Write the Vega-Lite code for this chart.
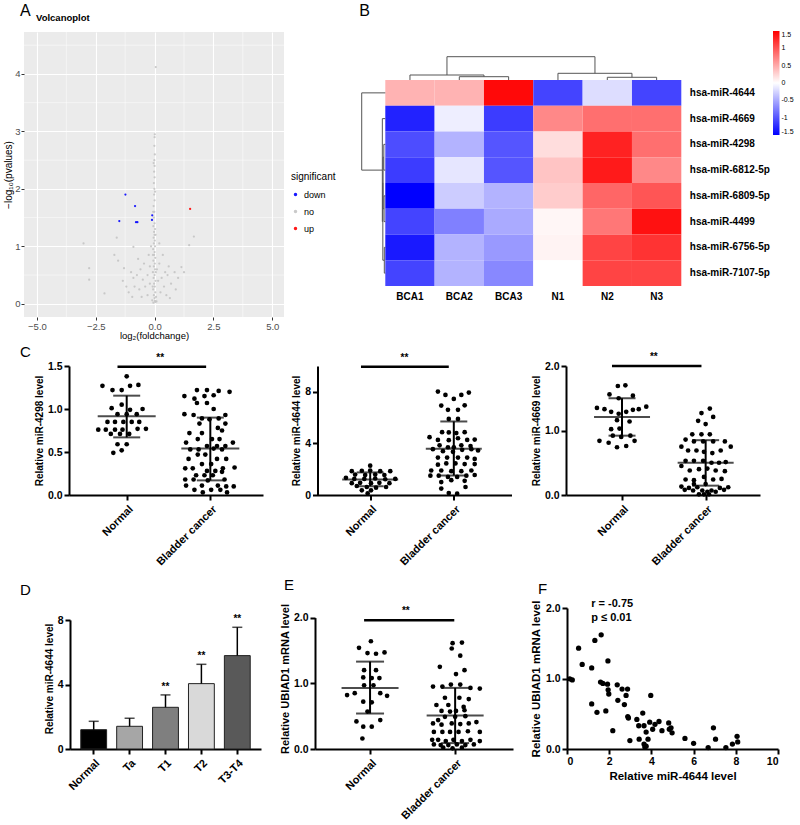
{
"$schema":"https://vega.github.io/schema/vega-lite/v6.json",
"padding":{"left":3,"top":3,"right":0,"bottom":0},
"config":{
 "font":"Liberation Sans",
 "view":{"stroke":null},
 "title":{"anchor":"start","frame":"group","fontSize":15,"fontWeight":"normal","color":"#000","font":"Liberation Sans"},
 "axis":{"grid":false,"domainColor":"#000","domainWidth":2,"tickColor":"#000","tickWidth":2,"tickSize":5,"labelColor":"#000","labelFontWeight":"bold","labelFontSize":10.5,"titleColor":"#000","titleFontWeight":"bold","titleFontSize":10,"labelPadding":2,"titlePadding":3,"labelFont":"Liberation Sans","titleFont":"Liberation Sans"},
 "legend":{"labelFont":"Liberation Sans","titleFont":"Liberation Sans"}
},
"datasets":{
 "volcano":[
  {"fc":-0.05,"nlp":0.02,"s":"no"},{"fc":0.02,"nlp":0.05,"s":"no"},{"fc":0.0,"nlp":0.1,"s":"no"},{"fc":-0.03,"nlp":0.15,"s":"no"},{"fc":0.03,"nlp":0.2,"s":"no"},{"fc":-0.06,"nlp":0.25,"s":"no"},{"fc":0.01,"nlp":0.3,"s":"no"},{"fc":-0.02,"nlp":0.35,"s":"no"},{"fc":0.04,"nlp":0.4,"s":"no"},{"fc":-0.04,"nlp":0.45,"s":"no"},{"fc":0.0,"nlp":0.5,"s":"no"},{"fc":-0.07,"nlp":0.55,"s":"no"},{"fc":0.02,"nlp":0.6,"s":"no"},{"fc":-0.03,"nlp":0.65,"s":"no"},{"fc":0.01,"nlp":0.7,"s":"no"},{"fc":-0.05,"nlp":0.75,"s":"no"},{"fc":0.03,"nlp":0.8,"s":"no"},{"fc":-0.02,"nlp":0.85,"s":"no"},{"fc":0.0,"nlp":0.9,"s":"no"},{"fc":-0.06,"nlp":0.95,"s":"no"},{"fc":0.02,"nlp":1.0,"s":"no"},{"fc":-0.03,"nlp":1.05,"s":"no"},{"fc":0.01,"nlp":1.1,"s":"no"},{"fc":-0.04,"nlp":1.15,"s":"no"},{"fc":0.0,"nlp":1.2,"s":"no"},{"fc":-0.02,"nlp":1.25,"s":"no"},{"fc":0.02,"nlp":1.3,"s":"no"},{"fc":-0.05,"nlp":1.35,"s":"no"},{"fc":0.0,"nlp":1.4,"s":"no"},{"fc":-0.03,"nlp":1.5,"s":"no"},{"fc":-0.01,"nlp":1.6,"s":"no"},{"fc":-0.04,"nlp":1.7,"s":"no"},{"fc":0.0,"nlp":1.8,"s":"no"},{"fc":-0.02,"nlp":1.9,"s":"no"},{"fc":-0.01,"nlp":2.0,"s":"no"},{"fc":-0.03,"nlp":2.1,"s":"no"},{"fc":0.0,"nlp":2.2,"s":"no"},{"fc":-0.02,"nlp":2.3,"s":"no"},{"fc":0.0,"nlp":2.4,"s":"no"},{"fc":-0.01,"nlp":2.5,"s":"no"},{"fc":0.01,"nlp":2.6,"s":"no"},{"fc":-0.01,"nlp":2.75,"s":"no"},{"fc":0.0,"nlp":2.9,"s":"no"},{"fc":0.01,"nlp":2.95,"s":"no"},{"fc":0.05,"nlp":4.12,"s":"no"},{"fc":0.03,"nlp":0.03,"s":"no"},{"fc":0.08,"nlp":0.04,"s":"no"},{"fc":-0.1,"nlp":0.06,"s":"no"},{"fc":0.06,"nlp":0.12,"s":"no"},{"fc":-0.08,"nlp":0.3,"s":"no"},{"fc":0.05,"nlp":0.55,"s":"no"},{"fc":-0.07,"nlp":0.85,"s":"no"},{"fc":0.04,"nlp":1.2,"s":"no"},{"fc":-0.06,"nlp":1.6,"s":"no"},{"fc":0.02,"nlp":1.95,"s":"no"},{"fc":-0.04,"nlp":2.45,"s":"no"},
  {"fc":-3.02,"nlp":1.05,"s":"no"},{"fc":-2.78,"nlp":0.62,"s":"no"},{"fc":-2.78,"nlp":0.42,"s":"no"},{"fc":-2.13,"nlp":0.18,"s":"no"},{"fc":-1.71,"nlp":0.85,"s":"no"},{"fc":-1.61,"nlp":1.15,"s":"no"},{"fc":-0.9,"nlp":0.99,"s":"no"},{"fc":-1.55,"nlp":0.75,"s":"no"},{"fc":-1.3,"nlp":0.62,"s":"no"},{"fc":-1.0,"nlp":0.55,"s":"no"},{"fc":-0.9,"nlp":0.45,"s":"no"},{"fc":-0.75,"nlp":0.5,"s":"no"},{"fc":-0.6,"nlp":0.6,"s":"no"},{"fc":-0.5,"nlp":0.42,"s":"no"},{"fc":-0.85,"nlp":0.3,"s":"no"},{"fc":-0.65,"nlp":0.25,"s":"no"},{"fc":-0.4,"nlp":0.3,"s":"no"},{"fc":-0.3,"nlp":0.5,"s":"no"},{"fc":-0.2,"nlp":0.65,"s":"no"},{"fc":-1.1,"nlp":0.2,"s":"no"},{"fc":-0.55,"nlp":0.12,"s":"no"},{"fc":-0.3,"nlp":0.15,"s":"no"},{"fc":-0.2,"nlp":0.35,"s":"no"},{"fc":-0.45,"nlp":0.7,"s":"no"},{"fc":-0.7,"nlp":0.78,"s":"no"},{"fc":-0.25,"nlp":0.85,"s":"no"},{"fc":-1.35,"nlp":0.4,"s":"no"},{"fc":-1.2,"nlp":0.3,"s":"no"},{"fc":-0.95,"nlp":0.12,"s":"no"},{"fc":0.2,"nlp":0.7,"s":"no"},{"fc":0.3,"nlp":0.45,"s":"no"},{"fc":0.4,"nlp":0.3,"s":"no"},{"fc":0.55,"nlp":0.5,"s":"no"},{"fc":0.7,"nlp":0.35,"s":"no"},{"fc":0.85,"nlp":0.55,"s":"no"},{"fc":1.0,"nlp":0.45,"s":"no"},{"fc":1.14,"nlp":0.64,"s":"no"},{"fc":1.25,"nlp":0.55,"s":"no"},{"fc":0.5,"nlp":0.15,"s":"no"},{"fc":0.25,"nlp":0.2,"s":"no"},{"fc":0.65,"nlp":0.1,"s":"no"},{"fc":0.15,"nlp":0.4,"s":"no"},{"fc":1.47,"nlp":1.02,"s":"no"},{"fc":1.67,"nlp":1.17,"s":"no"},{"fc":0.35,"nlp":0.85,"s":"no"},{"fc":0.2,"nlp":1.05,"s":"no"},{"fc":-0.15,"nlp":1.0,"s":"no"},{"fc":0.6,"nlp":0.65,"s":"no"},{"fc":0.9,"nlp":0.25,"s":"no"},{"fc":0.1,"nlp":0.6,"s":"no"},{"fc":0.45,"nlp":0.55,"s":"no"},
  {"fc":-1.24,"nlp":1.9,"s":"down"},{"fc":-0.83,"nlp":1.7,"s":"down"},{"fc":-1.5,"nlp":1.44,"s":"down"},{"fc":-0.79,"nlp":1.42,"s":"down"},{"fc":-0.73,"nlp":1.42,"s":"down"},{"fc":-0.1,"nlp":1.54,"s":"down"},{"fc":-0.11,"nlp":1.46,"s":"down"},
  {"fc":1.51,"nlp":1.65,"s":"up"}
 ],
 "heat":[
  {"m":"hsa-miR-4644","s":"BCA1","v":0.45},{"m":"hsa-miR-4644","s":"BCA2","v":0.45},{"m":"hsa-miR-4644","s":"BCA3","v":1.45},{"m":"hsa-miR-4644","s":"N1","v":-1.1},{"m":"hsa-miR-4644","s":"N2","v":-0.2},{"m":"hsa-miR-4644","s":"N3","v":-1.1},
  {"m":"hsa-miR-4669","s":"BCA1","v":-1.3},{"m":"hsa-miR-4669","s":"BCA2","v":-0.1},{"m":"hsa-miR-4669","s":"BCA3","v":-1.15},{"m":"hsa-miR-4669","s":"N1","v":0.7},{"m":"hsa-miR-4669","s":"N2","v":0.85},{"m":"hsa-miR-4669","s":"N3","v":0.85},
  {"m":"hsa-miR-4298","s":"BCA1","v":-1.05},{"m":"hsa-miR-4298","s":"BCA2","v":-0.45},{"m":"hsa-miR-4298","s":"BCA3","v":-1.0},{"m":"hsa-miR-4298","s":"N1","v":0.2},{"m":"hsa-miR-4298","s":"N2","v":1.3},{"m":"hsa-miR-4298","s":"N3","v":0.85},
  {"m":"hsa-miR-6812-5p","s":"BCA1","v":-1.15},{"m":"hsa-miR-6812-5p","s":"BCA2","v":-0.15},{"m":"hsa-miR-6812-5p","s":"BCA3","v":-1.0},{"m":"hsa-miR-6812-5p","s":"N1","v":0.35},{"m":"hsa-miR-6812-5p","s":"N2","v":1.35},{"m":"hsa-miR-6812-5p","s":"N3","v":0.7},
  {"m":"hsa-miR-6809-5p","s":"BCA1","v":-1.5},{"m":"hsa-miR-6809-5p","s":"BCA2","v":-0.3},{"m":"hsa-miR-6809-5p","s":"BCA3","v":-0.45},{"m":"hsa-miR-6809-5p","s":"N1","v":0.3},{"m":"hsa-miR-6809-5p","s":"N2","v":0.9},{"m":"hsa-miR-6809-5p","s":"N3","v":1.0},
  {"m":"hsa-miR-4499","s":"BCA1","v":-1.1},{"m":"hsa-miR-4499","s":"BCA2","v":-0.75},{"m":"hsa-miR-4499","s":"BCA3","v":-0.5},{"m":"hsa-miR-4499","s":"N1","v":0.05},{"m":"hsa-miR-4499","s":"N2","v":0.8},{"m":"hsa-miR-4499","s":"N3","v":1.4},
  {"m":"hsa-miR-6756-5p","s":"BCA1","v":-1.35},{"m":"hsa-miR-6756-5p","s":"BCA2","v":-0.45},{"m":"hsa-miR-6756-5p","s":"BCA3","v":-0.6},{"m":"hsa-miR-6756-5p","s":"N1","v":0.07},{"m":"hsa-miR-6756-5p","s":"N2","v":1.1},{"m":"hsa-miR-6756-5p","s":"N3","v":1.2},
  {"m":"hsa-miR-7107-5p","s":"BCA1","v":-1.1},{"m":"hsa-miR-7107-5p","s":"BCA2","v":-0.45},{"m":"hsa-miR-7107-5p","s":"BCA3","v":-0.7},{"m":"hsa-miR-7107-5p","s":"N1","v":0.0},{"m":"hsa-miR-7107-5p","s":"N2","v":1.1},{"m":"hsa-miR-7107-5p","s":"N3","v":1.1}
 ],
 "dendro":[
  {"x1":0.5,"y1":0,"x2":0.5,"y2":-0.194},{"x1":1.5,"y1":0,"x2":1.5,"y2":-0.128},{"x1":2.5,"y1":0,"x2":2.5,"y2":-0.128},{"x1":1.5,"y1":-0.128,"x2":2.5,"y2":-0.128},{"x1":2.0,"y1":-0.128,"x2":2.0,"y2":-0.194},{"x1":0.5,"y1":-0.194,"x2":2.0,"y2":-0.194},{"x1":1.25,"y1":-0.194,"x2":1.25,"y2":-0.905},
  {"x1":3.5,"y1":0,"x2":3.5,"y2":-0.26},{"x1":4.5,"y1":0,"x2":4.5,"y2":-0.105},{"x1":5.5,"y1":0,"x2":5.5,"y2":-0.105},{"x1":4.5,"y1":-0.105,"x2":5.5,"y2":-0.105},{"x1":5.0,"y1":-0.105,"x2":5.0,"y2":-0.26},{"x1":3.5,"y1":-0.26,"x2":5.0,"y2":-0.26},{"x1":4.25,"y1":-0.26,"x2":4.25,"y2":-0.905},{"x1":1.25,"y1":-0.905,"x2":4.25,"y2":-0.905},
  {"x1":-0.478,"y1":0.5,"x2":0,"y2":0.5},{"x1":-0.478,"y1":0.5,"x2":-0.478,"y2":3.5},{"x1":-0.478,"y1":3.5,"x2":-0.06,"y2":3.5},
  {"x1":-0.06,"y1":1.5,"x2":-0.06,"y2":5.5},{"x1":-0.06,"y1":1.5,"x2":0,"y2":1.5},{"x1":-0.06,"y1":5.5,"x2":-0.05,"y2":5.5},
  {"x1":-0.05,"y1":4.0,"x2":-0.05,"y2":7.0},{"x1":-0.05,"y1":4.0,"x2":-0.045,"y2":4.0},{"x1":-0.05,"y1":7.0,"x2":-0.02,"y2":7.0},
  {"x1":-0.045,"y1":3.0,"x2":-0.045,"y2":5.0},{"x1":-0.045,"y1":3.0,"x2":-0.03,"y2":3.0},{"x1":-0.045,"y1":5.0,"x2":-0.025,"y2":5.0},
  {"x1":-0.03,"y1":2.5,"x2":-0.03,"y2":3.5},{"x1":-0.03,"y1":2.5,"x2":0,"y2":2.5},{"x1":-0.03,"y1":3.5,"x2":0,"y2":3.5},
  {"x1":-0.025,"y1":4.5,"x2":-0.025,"y2":5.5},{"x1":-0.025,"y1":4.5,"x2":0,"y2":4.5},{"x1":-0.025,"y1":5.5,"x2":0,"y2":5.5},
  {"x1":-0.02,"y1":6.5,"x2":-0.02,"y2":7.5},{"x1":-0.02,"y1":6.5,"x2":0,"y2":6.5},{"x1":-0.02,"y1":7.5,"x2":0,"y2":7.5}
 ],
 "dots":[
  {"p":"C1","x":1.0,"v":1.38},{"p":"C1","x":0.71,"v":1.27},{"p":"C1","x":0.83,"v":1.22},{"p":"C1","x":0.94,"v":1.22},{"p":"C1","x":1.04,"v":1.27},{"p":"C1","x":1.14,"v":1.28},{"p":"C1","x":0.94,"v":1.05},{"p":"C1","x":0.82,"v":1.01},{"p":"C1","x":1.04,"v":0.99},{"p":"C1","x":1.19,"v":1.0},{"p":"C1","x":0.89,"v":0.94},{"p":"C1","x":1.0,"v":0.94},{"p":"C1","x":1.12,"v":0.94},{"p":"C1","x":0.77,"v":0.85},{"p":"C1","x":0.86,"v":0.85},{"p":"C1","x":0.96,"v":0.85},{"p":"C1","x":1.06,"v":0.85},{"p":"C1","x":1.15,"v":0.85},{"p":"C1","x":0.66,"v":0.76},{"p":"C1","x":0.75,"v":0.76},{"p":"C1","x":0.86,"v":0.76},{"p":"C1","x":0.95,"v":0.76},{"p":"C1","x":1.13,"v":0.77},{"p":"C1","x":1.23,"v":0.77},{"p":"C1","x":0.81,"v":0.71},{"p":"C1","x":0.92,"v":0.71},{"p":"C1","x":1.03,"v":0.71},{"p":"C1","x":0.89,"v":0.59},{"p":"C1","x":1.0,"v":0.59},{"p":"C1","x":0.84,"v":0.49},{"p":"C1","x":0.94,"v":0.52},
  {"p":"C1","x":1.84,"v":1.22},{"p":"C1","x":1.96,"v":1.22},{"p":"C1","x":2.10,"v":1.21},{"p":"C1","x":2.23,"v":1.2},{"p":"C1","x":1.69,"v":1.15},{"p":"C1","x":1.81,"v":1.12},{"p":"C1","x":1.93,"v":1.15},{"p":"C1","x":2.04,"v":1.16},{"p":"C1","x":1.84,"v":1.07},{"p":"C1","x":1.96,"v":1.07},{"p":"C1","x":2.04,"v":1.0},{"p":"C1","x":1.69,"v":0.94},{"p":"C1","x":1.80,"v":0.93},{"p":"C1","x":2.18,"v":0.93},{"p":"C1","x":1.90,"v":0.89},{"p":"C1","x":1.99,"v":0.88},{"p":"C1","x":2.10,"v":0.89},{"p":"C1","x":1.87,"v":0.83},{"p":"C1","x":2.18,"v":0.83},{"p":"C1","x":2.09,"v":0.78},{"p":"C1","x":2.14,"v":0.75},{"p":"C1","x":1.75,"v":0.72},{"p":"C1","x":1.90,"v":0.72},{"p":"C1","x":1.85,"v":0.65},{"p":"C1","x":2.02,"v":0.65},{"p":"C1","x":2.11,"v":0.65},{"p":"C1","x":1.71,"v":0.61},{"p":"C1","x":2.27,"v":0.61},{"p":"C1","x":1.96,"v":0.57},{"p":"C1","x":2.08,"v":0.57},{"p":"C1","x":2.18,"v":0.57},{"p":"C1","x":1.76,"v":0.53},{"p":"C1","x":1.86,"v":0.53},{"p":"C1","x":2.04,"v":0.54},{"p":"C1","x":2.14,"v":0.53},{"p":"C1","x":1.85,"v":0.47},{"p":"C1","x":1.94,"v":0.47},{"p":"C1","x":1.74,"v":0.42},{"p":"C1","x":2.08,"v":0.42},{"p":"C1","x":2.19,"v":0.42},{"p":"C1","x":1.90,"v":0.36},{"p":"C1","x":2.01,"v":0.36},{"p":"C1","x":1.70,"v":0.31},{"p":"C1","x":1.79,"v":0.31},{"p":"C1","x":2.15,"v":0.31},{"p":"C1","x":2.29,"v":0.32},{"p":"C1","x":1.96,"v":0.28},{"p":"C1","x":2.06,"v":0.28},{"p":"C1","x":2.14,"v":0.27},{"p":"C1","x":1.83,"v":0.23},{"p":"C1","x":1.93,"v":0.23},{"p":"C1","x":2.03,"v":0.23},{"p":"C1","x":1.70,"v":0.18},{"p":"C1","x":1.80,"v":0.18},{"p":"C1","x":1.97,"v":0.17},{"p":"C1","x":2.17,"v":0.18},{"p":"C1","x":1.71,"v":0.11},{"p":"C1","x":1.90,"v":0.11},{"p":"C1","x":2.09,"v":0.11},{"p":"C1","x":2.19,"v":0.1},{"p":"C1","x":2.28,"v":0.1},{"p":"C1","x":1.81,"v":0.06},{"p":"C1","x":2.01,"v":0.06},{"p":"C1","x":2.12,"v":0.06},{"p":"C1","x":1.91,"v":0.03},{"p":"C1","x":2.20,"v":0.03},
  {"p":"C2","x":1.0,"v":2.27},{"p":"C2","x":0.78,"v":1.85},{"p":"C2","x":0.90,"v":1.88},{"p":"C2","x":1.0,"v":1.9},{"p":"C2","x":1.12,"v":1.85},{"p":"C2","x":1.24,"v":1.85},{"p":"C2","x":0.82,"v":1.58},{"p":"C2","x":0.94,"v":1.55},{"p":"C2","x":1.06,"v":1.58},{"p":"C2","x":1.17,"v":1.55},{"p":"C2","x":0.71,"v":1.33},{"p":"C2","x":0.81,"v":1.25},{"p":"C2","x":0.93,"v":1.25},{"p":"C2","x":1.06,"v":1.28},{"p":"C2","x":1.18,"v":1.22},{"p":"C2","x":1.30,"v":1.25},{"p":"C2","x":0.78,"v":0.92},{"p":"C2","x":0.88,"v":0.94},{"p":"C2","x":1.01,"v":0.92},{"p":"C2","x":1.11,"v":0.94},{"p":"C2","x":1.23,"v":0.92},{"p":"C2","x":0.84,"v":0.7},{"p":"C2","x":0.96,"v":0.62},{"p":"C2","x":1.07,"v":0.57},{"p":"C2","x":1.19,"v":0.62},{"p":"C2","x":0.90,"v":0.36},{"p":"C2","x":1.01,"v":0.36},{"p":"C2","x":0.97,"v":0.12},
  {"p":"C2","x":1.81,"v":8.02},{"p":"C2","x":1.90,"v":7.76},{"p":"C2","x":2.0,"v":7.45},{"p":"C2","x":2.09,"v":7.76},{"p":"C2","x":2.18,"v":7.94},{"p":"C2","x":1.85,"v":6.93},{"p":"C2","x":1.93,"v":6.6},{"p":"C2","x":2.05,"v":6.6},{"p":"C2","x":2.13,"v":6.95},{"p":"C2","x":1.94,"v":5.9},{"p":"C2","x":2.05,"v":5.9},{"p":"C2","x":1.86,"v":4.87},{"p":"C2","x":1.94,"v":4.85},{"p":"C2","x":2.03,"v":4.8},{"p":"C2","x":2.13,"v":4.87},{"p":"C2","x":1.71,"v":4.48},{"p":"C2","x":2.25,"v":4.3},{"p":"C2","x":1.81,"v":4.27},{"p":"C2","x":1.94,"v":4.25},{"p":"C2","x":2.05,"v":4.4},{"p":"C2","x":2.16,"v":4.27},{"p":"C2","x":1.83,"v":3.85},{"p":"C2","x":1.93,"v":3.7},{"p":"C2","x":2.0,"v":3.7},{"p":"C2","x":2.09,"v":3.85},{"p":"C2","x":2.20,"v":3.8},{"p":"C2","x":1.75,"v":3.55},{"p":"C2","x":1.87,"v":3.4},{"p":"C2","x":1.99,"v":3.35},{"p":"C2","x":2.10,"v":3.5},{"p":"C2","x":2.21,"v":3.55},{"p":"C2","x":2.29,"v":3.45},{"p":"C2","x":1.81,"v":2.9},{"p":"C2","x":1.92,"v":2.9},{"p":"C2","x":2.05,"v":2.9},{"p":"C2","x":2.16,"v":2.9},{"p":"C2","x":2.25,"v":2.8},{"p":"C2","x":1.81,"v":2.35},{"p":"C2","x":1.91,"v":2.45},{"p":"C2","x":2.02,"v":2.45},{"p":"C2","x":2.13,"v":2.4},{"p":"C2","x":2.25,"v":2.4},{"p":"C2","x":1.73,"v":1.9},{"p":"C2","x":1.85,"v":1.9},{"p":"C2","x":1.97,"v":1.85},{"p":"C2","x":2.09,"v":1.85},{"p":"C2","x":2.21,"v":1.9},{"p":"C2","x":1.72,"v":1.5},{"p":"C2","x":1.82,"v":1.5},{"p":"C2","x":1.93,"v":1.4},{"p":"C2","x":2.04,"v":1.4},{"p":"C2","x":2.15,"v":1.5},{"p":"C2","x":2.25,"v":1.55},{"p":"C2","x":1.85,"v":1.0},{"p":"C2","x":1.97,"v":1.15},{"p":"C2","x":2.13,"v":1.1},{"p":"C2","x":1.85,"v":0.5},{"p":"C2","x":2.14,"v":0.62},{"p":"C2","x":1.94,"v":0.15},{"p":"C2","x":2.04,"v":0.1},
  {"p":"C3","x":0.95,"v":1.69},{"p":"C3","x":1.04,"v":1.70},{"p":"C3","x":0.85,"v":1.56},{"p":"C3","x":1.13,"v":1.54},{"p":"C3","x":0.96,"v":1.5},{"p":"C3","x":0.70,"v":1.35},{"p":"C3","x":1.29,"v":1.37},{"p":"C3","x":0.79,"v":1.33},{"p":"C3","x":1.20,"v":1.33},{"p":"C3","x":0.87,"v":1.29},{"p":"C3","x":1.05,"v":1.29},{"p":"C3","x":0.96,"v":1.26},{"p":"C3","x":1.13,"v":1.32},{"p":"C3","x":1.09,"v":1.14},{"p":"C3","x":0.94,"v":1.16},{"p":"C3","x":0.87,"v":1.02},{"p":"C3","x":0.97,"v":1.03},{"p":"C3","x":0.89,"v":0.92},{"p":"C3","x":1.10,"v":0.92},{"p":"C3","x":0.99,"v":0.9},{"p":"C3","x":0.73,"v":0.84},{"p":"C3","x":1.15,"v":0.84},{"p":"C3","x":0.84,"v":0.81},{"p":"C3","x":0.94,"v":0.74},{"p":"C3","x":1.05,"v":0.76},
  {"p":"C3","x":2.05,"v":1.34},{"p":"C3","x":1.95,"v":1.27},{"p":"C3","x":2.09,"v":1.21},{"p":"C3","x":1.91,"v":1.15},{"p":"C3","x":2.0,"v":1.10},{"p":"C3","x":1.84,"v":0.94},{"p":"C3","x":1.95,"v":0.94},{"p":"C3","x":2.05,"v":0.94},{"p":"C3","x":1.76,"v":0.86},{"p":"C3","x":1.86,"v":0.83},{"p":"C3","x":1.97,"v":0.83},{"p":"C3","x":2.09,"v":0.83},{"p":"C3","x":2.23,"v":0.83},{"p":"C3","x":1.71,"v":0.75},{"p":"C3","x":2.30,"v":0.75},{"p":"C3","x":1.79,"v":0.69},{"p":"C3","x":1.89,"v":0.69},{"p":"C3","x":1.98,"v":0.67},{"p":"C3","x":2.18,"v":0.69},{"p":"C3","x":2.08,"v":0.65},{"p":"C3","x":1.76,"v":0.53},{"p":"C3","x":1.86,"v":0.53},{"p":"C3","x":1.97,"v":0.53},{"p":"C3","x":2.07,"v":0.5},{"p":"C3","x":2.16,"v":0.5},{"p":"C3","x":2.24,"v":0.51},{"p":"C3","x":1.71,"v":0.45},{"p":"C3","x":1.81,"v":0.38},{"p":"C3","x":1.92,"v":0.4},{"p":"C3","x":2.02,"v":0.41},{"p":"C3","x":2.12,"v":0.38},{"p":"C3","x":2.23,"v":0.37},{"p":"C3","x":1.76,"v":0.24},{"p":"C3","x":1.86,"v":0.23},{"p":"C3","x":1.98,"v":0.28},{"p":"C3","x":2.09,"v":0.24},{"p":"C3","x":2.19,"v":0.25},{"p":"C3","x":1.86,"v":0.17},{"p":"C3","x":2.0,"v":0.17},{"p":"C3","x":1.71,"v":0.13},{"p":"C3","x":1.80,"v":0.11},{"p":"C3","x":1.90,"v":0.12},{"p":"C3","x":2.17,"v":0.11},{"p":"C3","x":2.27,"v":0.12},{"p":"C3","x":1.75,"v":0.08},{"p":"C3","x":1.85,"v":0.07},{"p":"C3","x":1.96,"v":0.07},{"p":"C3","x":2.07,"v":0.07},{"p":"C3","x":2.22,"v":0.08},{"p":"C3","x":2.02,"v":0.05},{"p":"C3","x":2.12,"v":0.05},{"p":"C3","x":1.92,"v":0.01},{"p":"C3","x":1.98,"v":0.01},{"p":"C3","x":2.04,"v":0.01},
  {"p":"E","x":1.01,"v":1.64},{"p":"E","x":0.87,"v":1.54},{"p":"E","x":0.97,"v":1.46},{"p":"E","x":1.07,"v":1.45},{"p":"E","x":1.17,"v":1.47},{"p":"E","x":0.93,"v":1.20},{"p":"E","x":1.07,"v":1.20},{"p":"E","x":0.92,"v":1.09},{"p":"E","x":1.02,"v":1.08},{"p":"E","x":1.11,"v":1.08},{"p":"E","x":0.93,"v":0.97},{"p":"E","x":1.04,"v":0.97},{"p":"E","x":0.73,"v":0.82},{"p":"E","x":0.82,"v":0.85},{"p":"E","x":1.12,"v":0.85},{"p":"E","x":1.20,"v":0.81},{"p":"E","x":0.92,"v":0.72},{"p":"E","x":1.02,"v":0.71},{"p":"E","x":0.97,"v":0.57},{"p":"E","x":0.84,"v":0.42},{"p":"E","x":1.12,"v":0.44},{"p":"E","x":0.92,"v":0.34},{"p":"E","x":1.02,"v":0.34},{"p":"E","x":0.91,"v":0.16},
  {"p":"E","x":1.97,"v":1.61},{"p":"E","x":2.08,"v":1.62},{"p":"E","x":1.96,"v":1.53},{"p":"E","x":2.06,"v":1.42},{"p":"E","x":1.82,"v":1.25},{"p":"E","x":2.01,"v":1.14},{"p":"E","x":2.11,"v":1.20},{"p":"E","x":1.74,"v":0.95},{"p":"E","x":1.85,"v":0.95},{"p":"E","x":2.18,"v":0.93},{"p":"E","x":2.29,"v":0.92},{"p":"E","x":1.95,"v":0.98},{"p":"E","x":2.06,"v":0.98},{"p":"E","x":1.88,"v":0.78},{"p":"E","x":2.05,"v":0.78},{"p":"E","x":2.16,"v":0.76},{"p":"E","x":1.78,"v":0.67},{"p":"E","x":1.92,"v":0.67},{"p":"E","x":2.10,"v":0.64},{"p":"E","x":1.84,"v":0.58},{"p":"E","x":1.94,"v":0.57},{"p":"E","x":2.01,"v":0.58},{"p":"E","x":2.11,"v":0.59},{"p":"E","x":1.88,"v":0.49},{"p":"E","x":2.0,"v":0.49},{"p":"E","x":2.12,"v":0.5},{"p":"E","x":1.80,"v":0.44},{"p":"E","x":1.74,"v":0.39},{"p":"E","x":1.84,"v":0.37},{"p":"E","x":1.96,"v":0.39},{"p":"E","x":2.06,"v":0.38},{"p":"E","x":2.16,"v":0.39},{"p":"E","x":2.25,"v":0.41},{"p":"E","x":1.75,"v":0.26},{"p":"E","x":1.85,"v":0.26},{"p":"E","x":1.94,"v":0.26},{"p":"E","x":2.04,"v":0.26},{"p":"E","x":2.15,"v":0.27},{"p":"E","x":2.29,"v":0.26},{"p":"E","x":1.73,"v":0.14},{"p":"E","x":1.80,"v":0.14},{"p":"E","x":1.89,"v":0.12},{"p":"E","x":1.98,"v":0.14},{"p":"E","x":2.08,"v":0.12},{"p":"E","x":2.18,"v":0.14},{"p":"E","x":2.29,"v":0.12},{"p":"E","x":1.75,"v":0.07},{"p":"E","x":1.83,"v":0.06},{"p":"E","x":1.92,"v":0.06},{"p":"E","x":2.02,"v":0.07},{"p":"E","x":2.12,"v":0.06},{"p":"E","x":2.22,"v":0.07},{"p":"E","x":1.86,"v":0.02},{"p":"E","x":1.97,"v":0.01},{"p":"E","x":2.08,"v":0.02}
 ],
 "stats":[
  {"p":"C1","g":1,"mean":0.917,"lo":0.67,"hi":1.155},{"p":"C1","g":2,"mean":0.54,"lo":0.17,"hi":0.9},
  {"p":"C2","g":1,"mean":1.2,"lo":0.68,"hi":1.75},{"p":"C2","g":2,"mean":3.59,"lo":1.51,"hi":5.7},
  {"p":"C3","g":1,"mean":1.21,"lo":0.92,"hi":1.5},{"p":"C3","g":2,"mean":0.5,"lo":0.145,"hi":0.85},
  {"p":"E","g":1,"mean":0.93,"lo":0.54,"hi":1.33},{"p":"E","g":2,"mean":0.51,"lo":0.09,"hi":0.93}
 ],
 "stage":[
  {"st":"Normal","mean":1.2,"up":1.72,"sig":""},{"st":"Ta","mean":1.41,"up":1.91,"sig":""},{"st":"T1","mean":2.59,"up":3.36,"sig":"**"},{"st":"T2","mean":4.06,"up":5.26,"sig":"**"},{"st":"T3-T4","mean":5.8,"up":7.56,"sig":"**"}
 ],
 "corr":[
  {"m":0.13,"u":0.995},{"m":0.25,"u":0.98},{"m":0.55,"u":1.43},{"m":0.72,"u":1.2},{"m":1.17,"u":1.15},{"m":1.17,"u":0.64},{"m":1.32,"u":1.54},{"m":1.42,"u":0.52},{"m":1.62,"u":1.62},{"m":1.59,"u":0.95},{"m":1.7,"u":0.93},{"m":1.84,"u":0.54},{"m":1.92,"u":0.92},{"m":1.94,"u":1.25},{"m":1.95,"u":0.84},{"m":1.98,"u":0.78},{"m":2.17,"u":0.26},{"m":2.38,"u":0.91},{"m":2.41,"u":0.69},{"m":2.61,"u":0.85},{"m":2.72,"u":0.63},{"m":2.8,"u":0.76},{"m":2.87,"u":0.85},{"m":2.88,"u":0.46},{"m":2.91,"u":0.44},{"m":2.98,"u":0.12},{"m":3.31,"u":0.42},{"m":3.4,"u":0.33},{"m":3.42,"u":0.14},{"m":3.59,"u":0.51},{"m":3.65,"u":0.33},{"m":3.65,"u":0.07},{"m":3.69,"u":0.03},{"m":3.75,"u":0.24},{"m":3.75,"u":0.04},{"m":3.84,"u":0.14},{"m":3.92,"u":0.38},{"m":3.97,"u":0.76},{"m":4.06,"u":0.28},{"m":4.17,"u":0.35},{"m":4.36,"u":0.39},{"m":4.5,"u":0.26},{"m":4.82,"u":0.37},{"m":4.85,"u":0.28},{"m":4.93,"u":0.3},{"m":4.98,"u":0.23},{"m":5.59,"u":0.15},{"m":6.0,"u":0.08},{"m":6.69,"u":0.02},{"m":6.94,"u":0.3},{"m":7.04,"u":0.14},{"m":7.53,"u":0.02},{"m":7.84,"u":0.07},{"m":8.06,"u":0.18},{"m":8.09,"u":0.1}
 ]
},
"spacing":10,
"vconcat":[
 {"spacing":5,"vconcat":[
  {"bounds":"flush","spacing":101.3,
   "title":{"text":"A","fontSize":16,"dx":-4,"offset":-16},
   "hconcat":[
   {"width":260,"height":285,
    "view":{"fill":"#ebebeb","stroke":null},
    "title":{"text":"Volcanoplot","fontSize":9.5,"fontWeight":"bold","dx":12,"offset":9},
    "layer":[
     {"data":{"values":[{"fc":-3.75},{"fc":-1.25},{"fc":1.25},{"fc":3.75}]},"mark":{"type":"rule","color":"#ffffff","strokeWidth":0.5},
      "encoding":{"x":{"field":"fc","type":"quantitative","scale":{"domain":[-5.55,5.5],"nice":false,"zero":false},"axis":{"title":"log₂(foldchange)","values":[-5,-2.5,0,2.5,5],"format":".1f","grid":true,"gridColor":"#ffffff","gridWidth":1.1,"domain":false,"tickColor":"#333333","tickWidth":1,"tickSize":3,"labelColor":"#4d4d4d","labelFontSize":9.5,"labelFontWeight":"normal","labelPadding":1,"titleFontSize":9.5,"titleFontWeight":"normal","titlePadding":0}}}},
     {"data":{"values":[{"nlp":0.5},{"nlp":1.5},{"nlp":2.5},{"nlp":3.5},{"nlp":4.5}]},"mark":{"type":"rule","color":"#ffffff","strokeWidth":0.5},
      "encoding":{"y":{"field":"nlp","type":"quantitative","scale":{"domain":[-0.23,4.73],"nice":false,"zero":false},"axis":{"title":"−log₁₀(pvalues)","values":[0,1,2,3,4],"format":"d","grid":true,"gridColor":"#ffffff","gridWidth":1.1,"domain":false,"tickColor":"#333333","tickWidth":1,"tickSize":3,"labelColor":"#4d4d4d","labelFontSize":9.5,"labelFontWeight":"normal","labelPadding":1,"titleFontSize":10,"titleFontWeight":"normal","titlePadding":1}}}},
     {"data":{"name":"volcano"},"mark":{"type":"circle","size":5,"opacity":0.9},
      "encoding":{"x":{"field":"fc","type":"quantitative"},"y":{"field":"nlp","type":"quantitative"},
       "color":{"field":"s","type":"nominal","scale":{"domain":["down","no","up"],"range":["#0000ff","#c4c4c4","#ff0000"]},
        "legend":{"orient":"none","legendX":267,"legendY":140,"title":"significant","titleFontSize":10,"titleFontWeight":"normal","titleColor":"#000","labelFontSize":9,"labelColor":"#000","symbolSize":12,"rowPadding":7,"titlePadding":8}}}}
    ]},
   {"width":296,"height":257.5,
    "title":{"text":"B","fontSize":16,"dx":-26,"offset":12},
    "resolve":{"scale":{"x":"independent","y":"independent"}},
    "layer":[
     {"data":{"name":"heat"},"mark":{"type":"rect"},
      "encoding":{
       "x":{"field":"s","type":"nominal","sort":["BCA1","BCA2","BCA3","N1","N2","N3"],"scale":{"paddingInner":0,"paddingOuter":0},"axis":{"orient":"bottom","title":null,"domain":false,"ticks":false,"labelAngle":0,"labelFontSize":10,"labelFontWeight":"bold","offset":-3.5,"labelPadding":5}},
       "y":{"field":"m","type":"nominal","sort":["hsa-miR-4644","hsa-miR-4669","hsa-miR-4298","hsa-miR-6812-5p","hsa-miR-6809-5p","hsa-miR-4499","hsa-miR-6756-5p","hsa-miR-7107-5p"],"scale":{"paddingInner":0,"paddingOuter":1,"align":0.932},"axis":{"orient":"right","title":null,"domain":false,"ticks":false,"labelFontSize":10,"labelFontWeight":"bold","labelPadding":8}},
       "color":{"field":"v","type":"quantitative","scale":{"domain":[-1.5,0,1.5],"range":["#0000ff","#ffffff","#ff0000"],"interpolate":"rgb"},
        "legend":{"orient":"none","legendX":387.7,"legendY":-1,"title":null,"direction":"vertical","gradientLength":104,"gradientThickness":6.5,"values":[-1.5,-1,-0.5,0,0.5,1,1.5],"labelExpr":"datum.value + ''","labelFontSize":7,"labelFontWeight":"normal","labelColor":"#000","labelOverlap":false,"labelOffset":2,"gradientStrokeWidth":0}}}},
     {"data":{"name":"dendro"},"mark":{"type":"rule","color":"#555555","strokeWidth":1},
      "encoding":{
       "x":{"field":"x1","type":"quantitative","scale":{"domain":[0,6],"nice":false,"zero":false},"axis":null},
       "x2":{"field":"x2"},
       "y":{"field":"y1","type":"quantitative","scale":{"domain":[-1.864,8.136],"reverse":true,"nice":false,"zero":false},"axis":null},
       "y2":{"field":"y2"}}}
    ]}
  ]},
  {"bounds":"flush","spacing":5,"hconcat":[
   {"width":40,"height":1,"data":{"values":[]},"mark":"point","encoding":{}},
   {"bounds":"flush","spacing":54.5,"hconcat":[
   {"width":194,"height":129,
    "title":{"text":"C","dx":-49,"offset":-7.5},
    "layer":[
     {"data":{"name":"dots"},"transform":[{"filter":"datum.p=='C1'"}],"mark":{"type":"circle","size":22,"color":"#000","opacity":1},
      "encoding":{"x":{"field":"x","type":"quantitative","scale":{"domain":[0.31,2.63],"nice":false,"zero":false},"axis":{"title":null,"values":[1,2],"labelExpr":"datum.value==1?'Normal':'Bladder cancer'","labelAngle":-45,"labelFontSize":11,"labelPadding":3}},
       "y":{"field":"v","type":"quantitative","scale":{"domain":[0,1.5],"nice":false},"axis":{"title":"Relative miR-4298 level","values":[0,0.5,1,1.5],"format":".1f"}}}},
     {"data":{"name":"stats"},"transform":[{"filter":"datum.p=='C1'"}],"mark":{"type":"rule","color":"#000","strokeWidth":2},
      "encoding":{"x":{"field":"g","type":"quantitative"},"y":{"field":"lo","type":"quantitative"},"y2":{"field":"hi"}}},
     {"data":{"name":"stats"},"transform":[{"filter":"datum.p=='C1'"}],"mark":{"type":"tick","orient":"horizontal","size":58,"thickness":2,"color":"#000"},
      "encoding":{"x":{"field":"g","type":"quantitative"},"y":{"field":"mean","type":"quantitative"}}},
     {"data":{"name":"stats"},"transform":[{"filter":"datum.p=='C1'"}],"mark":{"type":"tick","orient":"horizontal","size":27,"thickness":2,"color":"#000"},
      "encoding":{"x":{"field":"g","type":"quantitative"},"y":{"field":"lo","type":"quantitative"}}},
     {"data":{"name":"stats"},"transform":[{"filter":"datum.p=='C1'"}],"mark":{"type":"tick","orient":"horizontal","size":27,"thickness":2,"color":"#000"},
      "encoding":{"x":{"field":"g","type":"quantitative"},"y":{"field":"hi","type":"quantitative"}}},
     {"data":{"values":[{}]},"mark":{"type":"rule","color":"#000","strokeWidth":2.5},
      "encoding":{"x":{"datum":0.89,"type":"quantitative"},"x2":{"datum":1.95},"y":{"datum":1.49,"type":"quantitative"}}},
     {"data":{"values":[{}]},"mark":{"type":"text","text":"**","fontSize":10,"fontWeight":"bold","dy":-9},
      "encoding":{"x":{"datum":1.4,"type":"quantitative"},"y":{"datum":1.49,"type":"quantitative"}}}
    ]},
   {"width":194,"height":129,
    "layer":[
     {"data":{"name":"dots"},"transform":[{"filter":"datum.p=='C2'"}],"mark":{"type":"circle","size":22,"color":"#000","opacity":1},
      "encoding":{"x":{"field":"x","type":"quantitative","scale":{"domain":[0.37,2.69],"nice":false,"zero":false},"axis":{"title":null,"values":[1,2],"labelExpr":"datum.value==1?'Normal':'Bladder cancer'","labelAngle":-45,"labelFontSize":11,"labelPadding":3}},
       "y":{"field":"v","type":"quantitative","scale":{"domain":[0,10],"nice":false},"axis":{"title":"Relative miR-4644 level","values":[0,2,4,6,8,10]}}}},
     {"data":{"name":"stats"},"transform":[{"filter":"datum.p=='C2'"}],"mark":{"type":"rule","color":"#000","strokeWidth":2},
      "encoding":{"x":{"field":"g","type":"quantitative"},"y":{"field":"lo","type":"quantitative"},"y2":{"field":"hi"}}},
     {"data":{"name":"stats"},"transform":[{"filter":"datum.p=='C2'"}],"mark":{"type":"tick","orient":"horizontal","size":56,"thickness":2,"color":"#000"},
      "encoding":{"x":{"field":"g","type":"quantitative"},"y":{"field":"mean","type":"quantitative"}}},
     {"data":{"name":"stats"},"transform":[{"filter":"datum.p=='C2'"}],"mark":{"type":"tick","orient":"horizontal","size":27,"thickness":2,"color":"#000"},
      "encoding":{"x":{"field":"g","type":"quantitative"},"y":{"field":"lo","type":"quantitative"}}},
     {"data":{"name":"stats"},"transform":[{"filter":"datum.p=='C2'"}],"mark":{"type":"tick","orient":"horizontal","size":27,"thickness":2,"color":"#000"},
      "encoding":{"x":{"field":"g","type":"quantitative"},"y":{"field":"hi","type":"quantitative"}}},
     {"data":{"values":[{}]},"mark":{"type":"rule","color":"#000","strokeWidth":2.5},
      "encoding":{"x":{"datum":0.89,"type":"quantitative"},"x2":{"datum":1.94},"y":{"datum":9.95,"type":"quantitative"}}},
     {"data":{"values":[{}]},"mark":{"type":"text","text":"**","fontSize":10,"fontWeight":"bold","dy":-9},
      "encoding":{"x":{"datum":1.41,"type":"quantitative"},"y":{"datum":9.95,"type":"quantitative"}}}
    ]},
   {"width":194,"height":129,
    "layer":[
     {"data":{"name":"dots"},"transform":[{"filter":"datum.p=='C3'"}],"mark":{"type":"circle","size":22,"color":"#000","opacity":1},
      "encoding":{"x":{"field":"x","type":"quantitative","scale":{"domain":[0.33,2.65],"nice":false,"zero":false},"axis":{"title":null,"values":[1,2],"labelExpr":"datum.value==1?'Normal':'Bladder cancer'","labelAngle":-45,"labelFontSize":11,"labelPadding":3}},
       "y":{"field":"v","type":"quantitative","scale":{"domain":[0,2],"nice":false},"axis":{"title":"Relative miR-4669 level","values":[0,0.5,1,1.5,2],"format":".1f"}}}},
     {"data":{"name":"stats"},"transform":[{"filter":"datum.p=='C3'"}],"mark":{"type":"rule","color":"#000","strokeWidth":2},
      "encoding":{"x":{"field":"g","type":"quantitative"},"y":{"field":"lo","type":"quantitative"},"y2":{"field":"hi"}}},
     {"data":{"name":"stats"},"transform":[{"filter":"datum.p=='C3'"}],"mark":{"type":"tick","orient":"horizontal","size":56,"thickness":2,"color":"#000"},
      "encoding":{"x":{"field":"g","type":"quantitative"},"y":{"field":"mean","type":"quantitative"}}},
     {"data":{"name":"stats"},"transform":[{"filter":"datum.p=='C3'"}],"mark":{"type":"tick","orient":"horizontal","size":27,"thickness":2,"color":"#000"},
      "encoding":{"x":{"field":"g","type":"quantitative"},"y":{"field":"lo","type":"quantitative"}}},
     {"data":{"name":"stats"},"transform":[{"filter":"datum.p=='C3'"}],"mark":{"type":"tick","orient":"horizontal","size":27,"thickness":2,"color":"#000"},
      "encoding":{"x":{"field":"g","type":"quantitative"},"y":{"field":"hi","type":"quantitative"}}},
     {"data":{"values":[{}]},"mark":{"type":"rule","color":"#000","strokeWidth":2.5},
      "encoding":{"x":{"datum":0.88,"type":"quantitative"},"x2":{"datum":1.95},"y":{"datum":2.0,"type":"quantitative"}}},
     {"data":{"values":[{}]},"mark":{"type":"text","text":"**","fontSize":10,"fontWeight":"bold","dy":-9},
      "encoding":{"x":{"datum":1.38,"type":"quantitative"},"y":{"datum":2.0,"type":"quantitative"}}}
    ]}
   ]}
  ]}
 ]},
 {"bounds":"flush","spacing":6,"hconcat":[
  {"width":40,"height":1,"data":{"values":[]},"mark":"point","encoding":{}},
  {"bounds":"flush","spacing":54,"hconcat":[
  {"width":191,"height":141,
   "title":{"text":"D","dx":-50,"offset":10.5},
   "data":{"name":"stage"},
   "layer":[
    {"mark":{"type":"bar","stroke":"#222","strokeWidth":1},
     "encoding":{"x":{"field":"st","type":"nominal","sort":["Normal","Ta","T1","T2","T3-T4"],"scale":{"paddingInner":0.28,"paddingOuter":0.3},"axis":{"title":null,"labelAngle":-45,"labelFontSize":11,"labelPadding":3}},
      "y":{"field":"mean","type":"quantitative","scale":{"domain":[0,8.758],"nice":false},"axis":{"title":"Relative miR-4644 level","values":[0,2,4,6,8],"domainDash":[129.1,40]}},
      "color":{"field":"st","type":"nominal","scale":{"domain":["Normal","Ta","T1","T2","T3-T4"],"range":["#000000","#a6a6a6","#7f7f7f","#d9d9d9","#595959"]},"legend":null}}},
    {"mark":{"type":"rule","color":"#000","strokeWidth":1.5},
     "encoding":{"x":{"field":"st","type":"nominal","sort":["Normal","Ta","T1","T2","T3-T4"]},"y":{"field":"mean","type":"quantitative"},"y2":{"field":"up"}}},
    {"mark":{"type":"tick","orient":"horizontal","size":10,"thickness":1.5,"color":"#000"},
     "encoding":{"x":{"field":"st","type":"nominal","sort":["Normal","Ta","T1","T2","T3-T4"]},"y":{"field":"up","type":"quantitative"}}},
    {"mark":{"type":"text","fontSize":10,"fontWeight":"bold","dy":-8},
     "encoding":{"x":{"field":"st","type":"nominal","sort":["Normal","Ta","T1","T2","T3-T4"]},"y":{"field":"up","type":"quantitative"},"text":{"field":"sig"}}}
   ]},
  {"width":198,"height":141,
   "title":{"text":"E","dx":-31,"offset":10.5},
   "layer":[
    {"data":{"name":"dots"},"transform":[{"filter":"datum.p=='E'"}],"mark":{"type":"circle","size":22,"color":"#000","opacity":1},
     "encoding":{"x":{"field":"x","type":"quantitative","scale":{"domain":[0.353,2.68],"nice":false,"zero":false},"axis":{"title":null,"values":[1,2],"labelExpr":"datum.value==1?'Normal':'Bladder cancer'","labelAngle":-45,"labelFontSize":11,"labelPadding":3}},
      "y":{"field":"v","type":"quantitative","scale":{"domain":[0,2.146],"nice":false},"axis":{"title":"Relative UBIAD1 mRNA level","titleFontSize":11,"values":[0,0.5,1,1.5,2],"format":".1f","domainDash":[131.4,40]}}}},
    {"data":{"name":"stats"},"transform":[{"filter":"datum.p=='E'"}],"mark":{"type":"rule","color":"#000","strokeWidth":2},
     "encoding":{"x":{"field":"g","type":"quantitative"},"y":{"field":"lo","type":"quantitative"},"y2":{"field":"hi"}}},
    {"data":{"name":"stats"},"transform":[{"filter":"datum.p=='E'"}],"mark":{"type":"tick","orient":"horizontal","size":57,"thickness":2,"color":"#000"},
     "encoding":{"x":{"field":"g","type":"quantitative"},"y":{"field":"mean","type":"quantitative"}}},
    {"data":{"name":"stats"},"transform":[{"filter":"datum.p=='E'"}],"mark":{"type":"tick","orient":"horizontal","size":28,"thickness":2,"color":"#000"},
     "encoding":{"x":{"field":"g","type":"quantitative"},"y":{"field":"lo","type":"quantitative"}}},
    {"data":{"name":"stats"},"transform":[{"filter":"datum.p=='E'"}],"mark":{"type":"tick","orient":"horizontal","size":28,"thickness":2,"color":"#000"},
     "encoding":{"x":{"field":"g","type":"quantitative"},"y":{"field":"hi","type":"quantitative"}}},
    {"data":{"values":[{}]},"mark":{"type":"rule","color":"#000","strokeWidth":2.5},
     "encoding":{"x":{"datum":0.93,"type":"quantitative"},"x2":{"datum":1.99},"y":{"datum":1.96,"type":"quantitative"}}},
    {"data":{"values":[{}]},"mark":{"type":"text","text":"**","fontSize":10,"fontWeight":"bold","dy":-9},
     "encoding":{"x":{"datum":1.42,"type":"quantitative"},"y":{"datum":1.96,"type":"quantitative"}}}
   ]},
  {"width":211,"height":141,
   "title":{"text":"F","dx":-29,"offset":1.5},
   "layer":[
    {"data":{"name":"corr"},"mark":{"type":"circle","size":28,"color":"#000","opacity":1},
     "encoding":{"x":{"field":"m","type":"quantitative","scale":{"domain":[0,10],"nice":false},"axis":{"title":"Relative miR-4644 level","titleFontSize":11.5,"titlePadding":4,"values":[0,2,4,6,8,10]}},
      "y":{"field":"u","type":"quantitative","scale":{"domain":[0,2],"nice":false},"axis":{"title":"Relative UBIAD1 mRNA level","titleFontSize":11.5,"titlePadding":4,"values":[0,0.5,1,1.5,2],"format":".1f"}}}},
    {"data":{"values":[{}]},"mark":{"type":"text","text":"r = -0.75","align":"left","fontSize":11,"fontWeight":"bold"},
     "encoding":{"x":{"datum":1.15,"type":"quantitative"},"y":{"datum":2.05,"type":"quantitative"}}},
    {"data":{"values":[{}]},"mark":{"type":"text","text":"p ≤ 0.01","align":"left","fontSize":11,"fontWeight":"bold"},
     "encoding":{"x":{"datum":1.15,"type":"quantitative"},"y":{"datum":1.86,"type":"quantitative"}}}
   ]}
  ]}
 ]}
]
}
